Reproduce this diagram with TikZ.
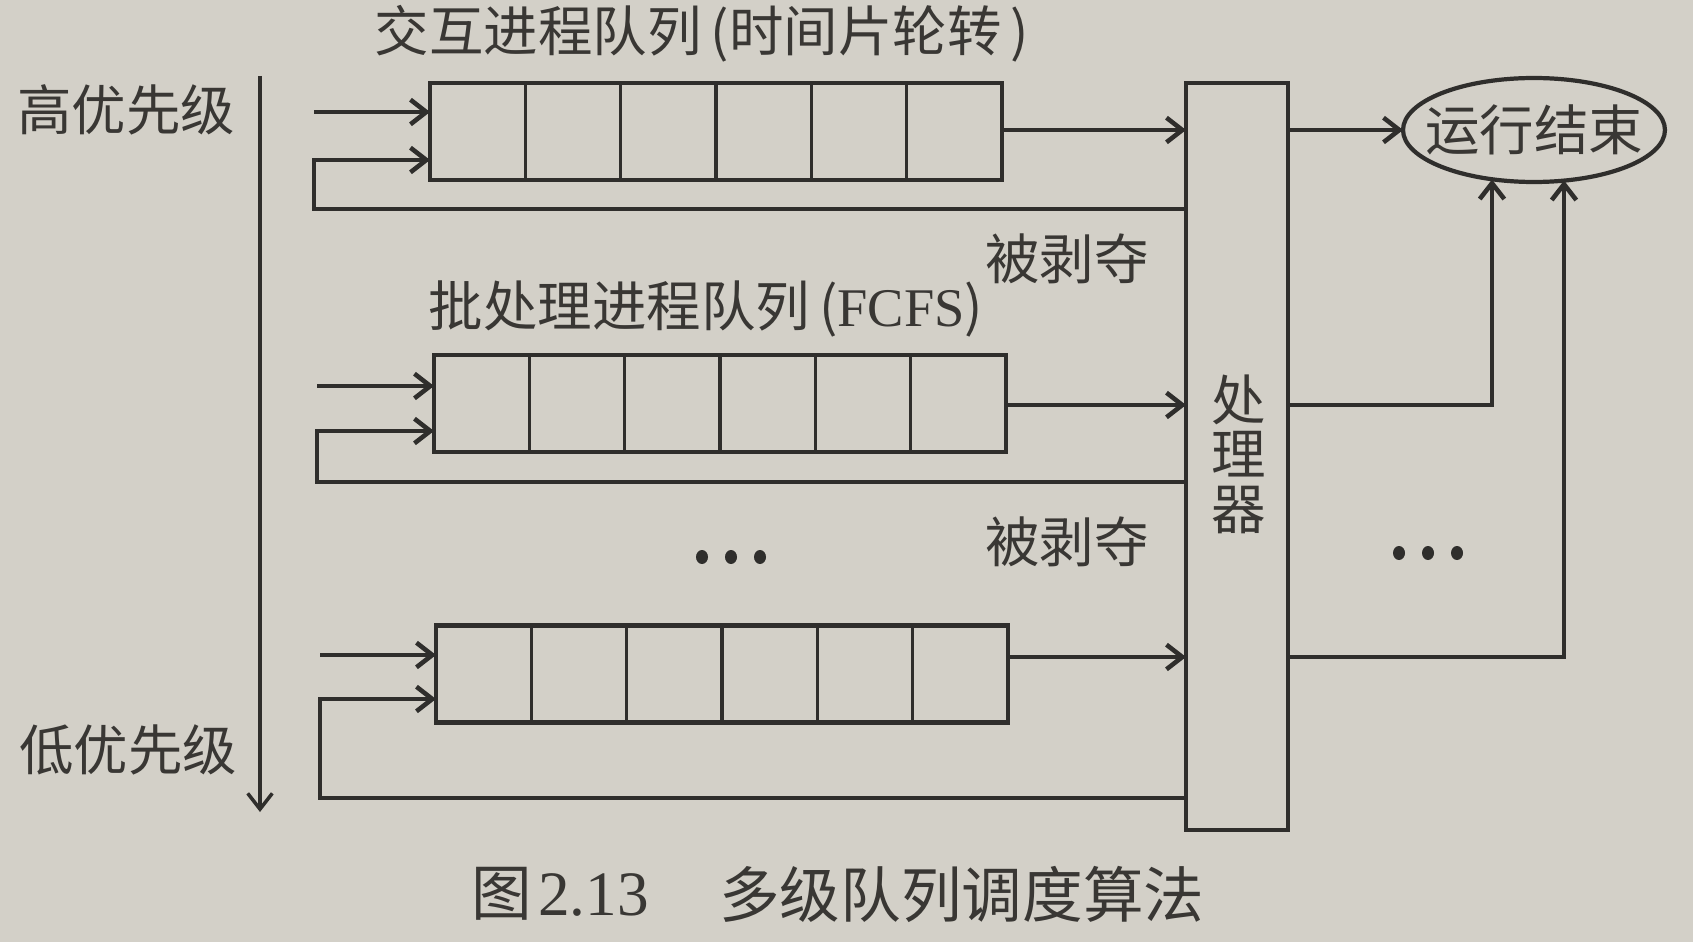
\documentclass[tikz,border=0pt]{standalone}
\usepackage{fontspec}
\usetikzlibrary{arrows.meta,shapes.geometric}
\newfontfamily\cjk{Noto Sans CJK SC}
\newfontfamily\serifnum{Liberation Serif}
\definecolor{paper}{HTML}{D3D0C8}
\definecolor{ink}{HTML}{2F2E2C}
\definecolor{textink}{HTML}{393734}
\tikzset{
  cell/.style={draw=ink, line width=1.8pt, minimum width=1.907cm, minimum height=1.94cm,
               inner sep=0pt, outer sep=0pt},
  frame/.style={draw=ink, line width=2.4pt},
  cpubox/.style={draw=ink, line width=2.4pt, minimum width=2.04cm, minimum height=14.94cm,
                 inner sep=0pt, outer sep=0pt},
  endbox/.style={draw=ink, line width=2.4pt, ellipse, minimum width=5.24cm,
                 minimum height=2.08cm, inner sep=0pt, outer sep=0pt},
  wire/.style={draw=ink, line width=2.6pt},
  flow/.style={wire, -{Straight Barb[length=9pt,width=14pt]}},
  cjklabel/.style={text=textink, inner sep=0pt, font=\cjk\fontsize{31}{31}\selectfont},
  captionfont/.style={text=textink, inner sep=0pt, font=\cjk\fontsize{34.5}{34.5}\selectfont},
}
\begin{document}
\begin{tikzpicture}[x=0.02cm,y=-0.02cm]
\useasboundingbox[fill=paper] (0,0) rectangle (1693,942);

% three queues of six slots each
\foreach \q/\x/\y in {a/430/131.5, b/434/403.5, c/436/674}{
  \foreach \i in {1,...,6}
    \node[cell] (\q\i) at ({\x+95.33*(\i-0.5)},\y) {};
  \draw[frame] (\q1.north west) rectangle (\q6.south east);
}

% processor and finish state
\node[cpubox] (cpu) at (1237,456.5) {};
\node[cjklabel, align=center] (cpuname) at (1239,454) {处\\理\\器};
\node[endbox] (done) at (1534,130) {};
\node[cjklabel] (donetext) at (done.center) {运行结束};

% labels
\node[cjklabel] (hi) at (126,110) {高优先级};
\node[cjklabel] (lo) at (128,750) {低优先级};
\node[cjklabel] (titleA) at (702,34) {交互进程队列\,(时间片轮转\,)};
\node[cjklabel] (titleB) at (706,309) {批处理进程队列\,({\serifnum FCFS})};
\node[cjklabel] (preA) at (1067,259) {被剥夺};
\node[cjklabel] (preB) at (1067,542) {被剥夺};

% priority axis
\coordinate (ptop) at (260,76);
\coordinate (pbot) at (260,812);
\draw[flow, line width=2pt] (ptop) -- (pbot);

% arrivals and pre-empted returns
\coordinate (inA) at (314,112);
\coordinate (inB) at (317,386);
\coordinate (inC) at (320,655);
\draw[flow] (inA) -- (inA -| a1.west);
\draw[flow] (inB) -- (inB -| b1.west);
\draw[flow] (inC) -- (inC -| c1.west);

\coordinate (lpA) at (314,209);
\coordinate (lpB) at (317,482);
\coordinate (lpC) at (320,798);
\coordinate (fbA) at (314,160);
\coordinate (fbB) at (317,431);
\coordinate (fbC) at (320,699);
\draw[flow] (lpA -| cpu.west) -- (lpA) -- (fbA) -- (fbA -| a1.west);
\draw[flow] (lpB -| cpu.west) -- (lpB) -- (fbB) -- (fbB -| b1.west);
\draw[flow] (lpC -| cpu.west) -- (lpC) -- (fbC) -- (fbC -| c1.west);

% dispatch to the processor
\draw[flow] (a6.east |- 0,130) -- (cpu.west |- 0,130);
\draw[flow] (b6.east |- 0,405) -- (cpu.west |- 0,405);
\draw[flow] (c6.east |- 0,657) -- (cpu.west |- 0,657);

% completion
\coordinate (eB) at (1492,179.5);
\coordinate (eC) at (1564,180.5);
\draw[flow] (cpu.east |- done) -- (done);
\draw[flow] (cpu.east |- 0,405) -| (eB);
\draw[flow] (cpu.east |- 0,657) -| (eC);

% ellipses
\foreach \dx in {-29,0,29}{
  \fill[ink] ({731+\dx},557) ellipse (0.12cm and 0.14cm);
  \fill[ink] ({1428+\dx},553) ellipse (0.12cm and 0.14cm);
}

% caption
\node[captionfont] (figno) at (502,894) {图};
\node[text=textink, inner sep=0pt, anchor=west, font=\serifnum\fontsize{36}{36}\selectfont]
  (fignum) at (538,895) {2.13};
\node[captionfont, anchor=west] (figtitle) at (719,894) {多级队列调度算法};
\end{tikzpicture}
\end{document}
